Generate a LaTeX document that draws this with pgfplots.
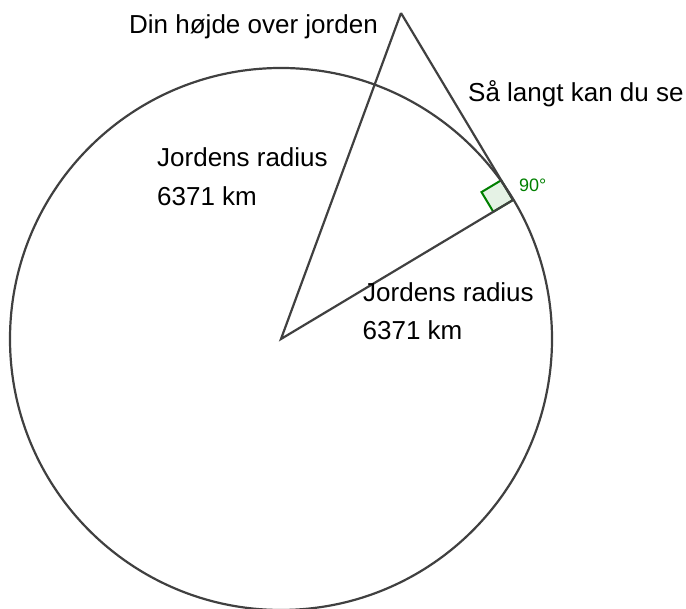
\documentclass[border=0pt]{standalone}
\usepackage{pgfplots}
\pgfplotsset{compat=1.18}
\usepackage{fontspec}
\setmainfont{Liberation Sans}
\definecolor{linegray}{HTML}{404040}
\definecolor{anggreen}{HTML}{007F00}
\begin{document}
\begin{tikzpicture}
\begin{axis}[name=ax,
  width=686pt, height=609pt, scale only axis,
  xmin=0, xmax=686, ymin=0, ymax=609,
  hide axis, clip=false]
% right angle marker
\addplot[draw=anggreen, fill=anggreen, fill opacity=0.1, line width=2pt]
  coordinates {(513,409) (493.3,397.2) (481.5,416.9) (501.2,428.7) (513,409)};
% circle (earth)
\draw[linegray, line width=2.2pt] (axis cs:281,270) circle [radius=271pt];
% radius to tangent point and triangle sides
\addplot[linegray, line width=2.2pt, line join=miter] coordinates {(401,596) (281,270) (513,409) (401,596)};
% labels
\node[anchor=base west, inner sep=0pt, font=\fontsize{26}{31}\selectfont] at (axis cs:129,575) {Din højde over jorden};
\node[anchor=base west, inner sep=0pt, font=\fontsize{26}{31}\selectfont] at (axis cs:468,507.5) {Så langt kan du se};
\node[anchor=base west, inner sep=0pt, font=\fontsize{26}{31}\selectfont] at (axis cs:157,442.5) {Jordens radius};
\node[anchor=base west, inner sep=0pt, font=\fontsize{26}{31}\selectfont] at (axis cs:157,403.5) {6371 km};
\node[anchor=base west, inner sep=0pt, font=\fontsize{26}{31}\selectfont] at (axis cs:363,307.5) {Jordens radius};
\node[anchor=base west, inner sep=0pt, font=\fontsize{26}{31}\selectfont] at (axis cs:362.5,269) {6371 km};
\node[anchor=base west, inner sep=0pt, text=anggreen, font=\fontsize{18}{22}\selectfont] at (axis cs:519,417) {90°};
\end{axis}
\pgfresetboundingbox
\path[use as bounding box] (ax.south west) rectangle (ax.north east);
\end{tikzpicture}
\end{document}
